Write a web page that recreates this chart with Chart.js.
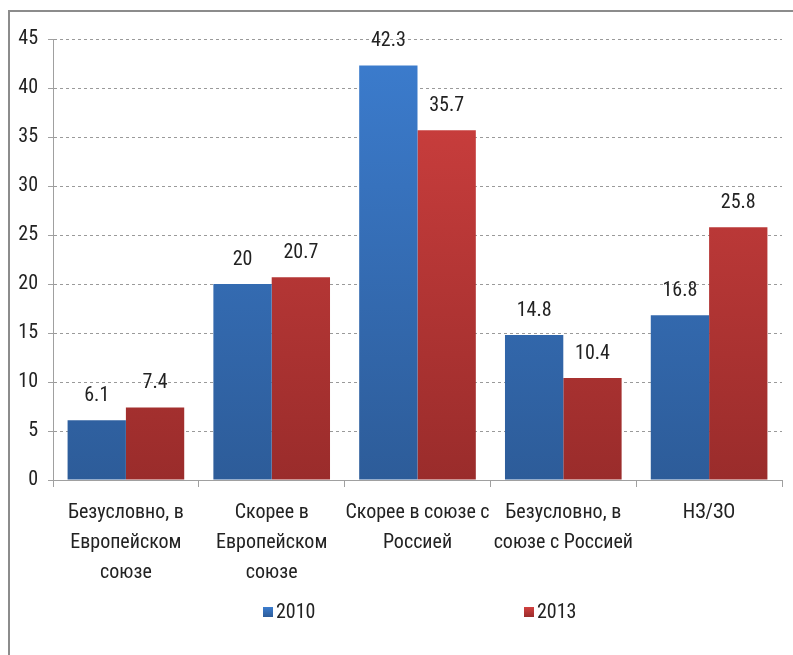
<!DOCTYPE html>
<html>
<head>
<meta charset="utf-8">
<script src="https://cdn.jsdelivr.net/npm/chart.js@4.4.1/dist/chart.umd.min.js"></script>
<style>
  html, body { margin: 0; padding: 0; background: #fff; }
  body { width: 793px; height: 655px; position: relative; overflow: hidden; }
  .frame { position: absolute; left: 8px; top: 10px; width: 900px; height: 800px;
           border-left: 2px solid #8c8c8c; border-top: 2px solid #8c8c8c; }
  #wrap { position: absolute; left: 0; top: 0; width: 793px; height: 655px; }
</style>
</head>
<body>
<div class="frame"></div>
<div id="wrap"><canvas id="chart" width="793" height="655"></canvas></div>
<script>
// values
const categories = [
  ['Безусловно, в', 'Европейском', 'союзе'],
  ['Скорее в', 'Европейском', 'союзе'],
  ['Скорее в союзе с', 'Россией'],
  ['Безусловно, в', 'союзе с Россией'],
  ['НЗ/ЗО'],
];
const seriesNames = ['2010', '2013'];
const values2010 = [6.1, 20, 42.3, 14.8, 16.8];
const values2013 = [7.4, 20.7, 35.7, 10.4, 25.8];
const yTicks = [0, 5, 10, 15, 20, 25, 30, 35, 40, 45];

const FONT = "'Roboto Condensed', Carlito, sans-serif";
const blueStops = ['#3c7dcf', '#2d5c99'];
const redStops = ['#d24140', '#9a2c2b'];

function gradient(chart, stops) {
  const { ctx, chartArea } = chart;
  if (!chartArea) return stops[0];
  const g = ctx.createLinearGradient(0, chartArea.top, 0, chartArea.bottom);
  g.addColorStop(0, stops[0]);
  g.addColorStop(1, stops[1]);
  return g;
}

// value labels above each bar
const valueLabels = {
  id: 'valueLabels',
  afterDatasetsDraw(chart) {
    const { ctx } = chart;
    ctx.save();
    ctx.font = `20px ${FONT}`;
    ctx.fillStyle = '#222';
    ctx.textAlign = 'center';
    ctx.textBaseline = 'middle';
    chart.data.datasets.forEach((ds, di) => {
      chart.getDatasetMeta(di).data.forEach((bar, i) => {
        ctx.fillText(String(ds.data[i]), bar.x, bar.y - 24);
      });
    });
    ctx.restore();
  },
};

// legend with items spread apart like the original
const spreadLegend = {
  id: 'spreadLegend',
  afterDraw(chart, args, opts) {
    const { ctx, chartArea } = chart;
    const y = chartArea.bottom + opts.offsetY;
    ctx.save();
    ctx.font = `20px ${FONT}`;
    ctx.textBaseline = 'middle';
    ctx.textAlign = 'left';
    chart.data.datasets.forEach((ds, i) => {
      const x = chartArea.left + opts.starts[i];
      const g = ctx.createLinearGradient(0, y - 5, 0, y + 5);
      g.addColorStop(0, ds.stops[0]);
      g.addColorStop(1, ds.stops[1]);
      ctx.fillStyle = g;
      ctx.fillRect(x, y - 5, 10, 10);
      ctx.fillStyle = '#222';
      ctx.fillText(ds.label, x + 13, y + 1);
    });
    ctx.restore();
  },
};

new Chart(document.getElementById('chart'), {
  type: 'bar',
  data: {
    labels: categories,
    datasets: [
      {
        label: seriesNames[0],
        data: values2010,
        stops: blueStops,
        backgroundColor: (c) => gradient(c.chart, blueStops),
      },
      {
        label: seriesNames[1],
        data: values2013,
        stops: redStops,
        backgroundColor: (c) => gradient(c.chart, redStops),
      },
    ],
  },
  options: {
    responsive: false,
    animation: false,
    devicePixelRatio: 1,
    layout: { padding: { top: 39, right: 11, left: 0, bottom: 0 } },
    datasets: { bar: { categoryPercentage: 0.8, barPercentage: 1.0, borderWidth: 0 } },
    plugins: {
      legend: { display: false },
      tooltip: { enabled: false },
      spreadLegend: { offsetY: 132, starts: [210, 471] },
    },
    scales: {
      x: {
        afterFit: (s) => { s.height = 175; },
        grid: {
          offset: true,
          drawOnChartArea: false,
          drawTicks: true,
          tickLength: 7,
          tickColor: '#a0a0a0',
          color: '#a0a0a0',
        },
        border: { color: '#a0a0a0', width: 1 },
        ticks: {
          color: '#222',
          padding: 11,
          maxRotation: 0,
          autoSkip: false,
          font: { family: FONT, size: 20, lineHeight: 1.5 },
        },
      },
      y: {
        min: 0,
        max: 45,
        afterFit: (s) => { s.width = 53; },
        afterBuildTicks: (s) => { s.ticks = yTicks.map((v) => ({ value: v })); },
        grid: {
          color: '#9a9a9a',
          tickLength: 5,
          tickColor: '#a0a0a0',
          tickBorderDash: [],
        },
        border: { color: '#a0a0a0', width: 1, dash: [3, 3] },
        ticks: {
          color: '#222',
          padding: 10,
          font: { family: FONT, size: 20 },
        },
      },
    },
  },
  plugins: [valueLabels, spreadLegend],
});
</script>
</body>
</html>
